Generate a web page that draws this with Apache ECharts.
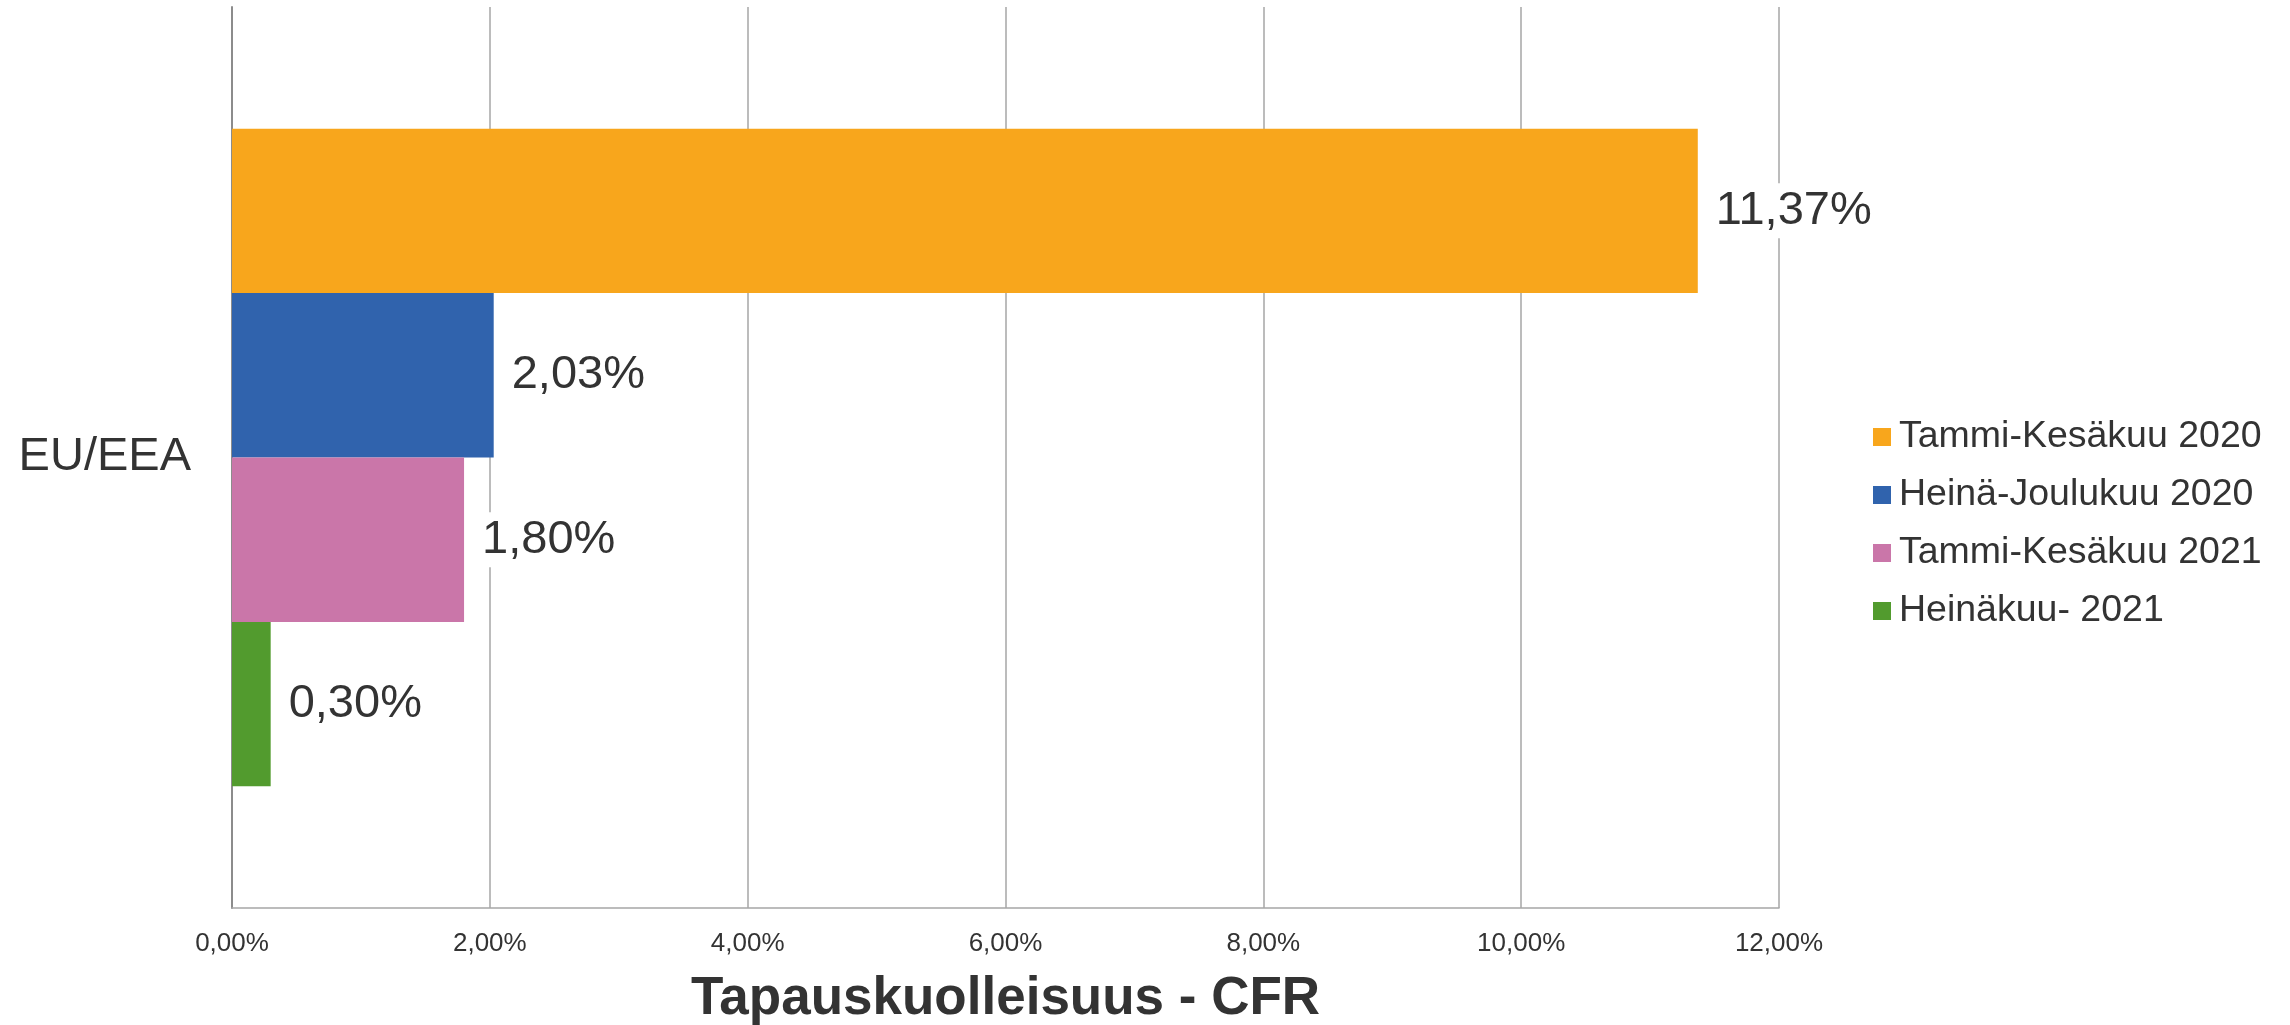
<!DOCTYPE html>
<html>
<head>
<meta charset="utf-8">
<script src="https://cdn.jsdelivr.net/npm/echarts@6/dist/echarts.min.js"></script>
<style>
  html, body { margin: 0; padding: 0; background: #fff; }
  #chart { width: 2290px; height: 1025px; }
</style>
</head>
<body>
<div id="chart"></div>
<script>
const categories = ['EU/EEA'];
const seriesNames = ['Tammi-Kesäkuu 2020', 'Heinä-Joulukuu 2020', 'Tammi-Kesäkuu 2021', 'Heinäkuu- 2021'];
const seriesValues = [[11.37], [2.03], [1.80], [0.30]];
const seriesColors = ['#F8A61C', '#3063AD', '#CA76A9', '#529B2E'];
const axisMin = 0;
const axisMax = 12;
const axisInterval = 2;

const font = '"Liberation Sans", Arial, sans-serif';
const textColor = '#333333';
const gridColor = '#A6A6A6';

function pct(v) {
    return v.toFixed(2).replace('.', ',') + '%';
}

const chart = echarts.init(document.getElementById('chart'));

const series = seriesNames.map((name, i) => ({
    name: name,
    type: 'bar',
    data: seriesValues[i],
    itemStyle: { color: seriesColors[i] },
    barGap: '0%',
    barCategoryGap: '27%',
    label: {
        show: true,
        position: 'right',
        distance: 14,
        formatter: p => pct(p.value),
        fontFamily: font,
        fontSize: 47,
        color: textColor,
        backgroundColor: '#ffffff',
        padding: [6, 4, 2, 4]
    }
}));

chart.setOption({
    animation: false,
    backgroundColor: '#ffffff',
    grid: { left: 232, right: 511, top: 7, bottom: 117, outerBoundsMode: 'none' },
    legend: {
        orient: 'vertical',
        left: 1868,
        top: 413,
        itemWidth: 18,
        itemHeight: 18,
        itemGap: 20,
        icon: 'rect',
        textStyle: { fontFamily: font, fontSize: 37.5, lineHeight: 37, color: textColor, padding: [0, 0, 0, 3] },
        data: seriesNames
    },
    xAxis: {
        type: 'value',
        min: axisMin,
        max: axisMax,
        interval: axisInterval,
        name: 'Tapauskuolleisuus - CFR',
        nameLocation: 'middle',
        nameGap: 65,
        nameTextStyle: { fontFamily: font, fontSize: 53, fontWeight: 'bold', color: textColor },
        axisLine: { show: true, lineStyle: { color: gridColor, width: 1.5 } },
        axisTick: { show: false },
        axisLabel: { formatter: v => pct(v), fontFamily: font, fontSize: 26, color: textColor, margin: 23 },
        splitLine: { show: true, lineStyle: { color: gridColor, width: 1.5 } }
    },
    yAxis: {
        type: 'category',
        inverse: true,
        data: categories,
        axisLine: { show: true, lineStyle: { color: '#8C8C8C', width: 2 } },
        axisTick: { show: false },
        axisLabel: { fontFamily: font, fontSize: 47, color: textColor, margin: 41 }
    },
    series: series
});
</script>
</body>
</html>
